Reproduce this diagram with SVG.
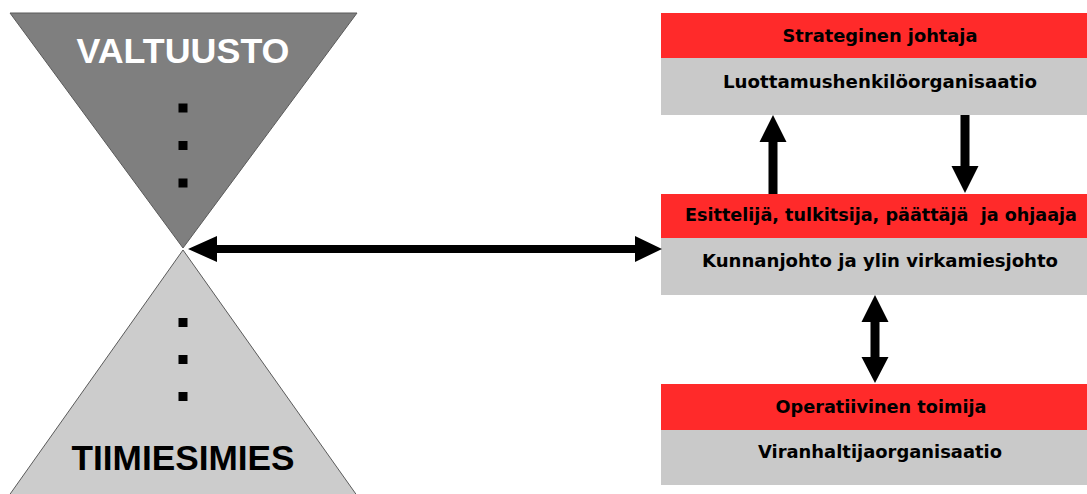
<svg xmlns="http://www.w3.org/2000/svg" width="1087" height="494" viewBox="0 0 1087 494">
<style>
.lbl{font-family:"DejaVu Sans","Verdana",sans-serif;font-weight:bold;font-size:18px;fill:#000;text-anchor:middle}
.big{font-family:"Liberation Sans",Arial,sans-serif;font-weight:bold;font-size:35px;text-anchor:middle}
.red{fill:#ff2a2a}
.gray{fill:#c9c9c9}
.arrow{fill:#000}
.dot{fill:#000}
</style>
<rect width="1087" height="494" fill="#fff"/>
<g id="valtuusto">
<polygon points="10,13 357,13 183,248" fill="#7f7f7f" stroke="#5a5a5a" stroke-width="1"/>
<text class="big" x="183" y="63" fill="#fff" textLength="213" lengthAdjust="spacingAndGlyphs">VALTUUSTO</text>
<rect class="dot" x="178.5" y="103.5" width="9" height="9"/>
<rect class="dot" x="178.5" y="141" width="9" height="9"/>
<rect class="dot" x="178.5" y="178.5" width="9" height="9"/>
</g>
<g id="tiimiesimies">
<polygon points="183,250 8,497 358,497" fill="#cccccc" stroke="#5a5a5a" stroke-width="1"/>
<rect class="dot" x="178.5" y="318" width="9" height="9"/>
<rect class="dot" x="178.5" y="355" width="9" height="9"/>
<rect class="dot" x="178.5" y="392" width="9" height="9"/>
<text class="big" x="183" y="470" fill="#000" textLength="223" lengthAdjust="spacingAndGlyphs">TIIMIESIMIES</text>
</g>
<g id="strateginen">
<rect class="red" x="661" y="13" width="440" height="45"/>
<rect class="gray" x="661" y="58" width="440" height="57"/>
<text class="lbl" x="880" y="42" textLength="195" lengthAdjust="spacingAndGlyphs">Strateginen johtaja</text>
<text class="lbl" x="880" y="88" textLength="314" lengthAdjust="spacingAndGlyphs">Luottamushenkilöorganisaatio</text>
</g>
<g id="esittelija">
<rect class="red" x="661" y="194" width="440" height="44"/>
<rect class="gray" x="661" y="238" width="440" height="57"/>
<text class="lbl" x="881" y="221" textLength="392" lengthAdjust="spacingAndGlyphs" xml:space="preserve">Esittelijä, tulkitsija, päättäjä  ja ohjaaja</text>
<text class="lbl" x="880" y="267" textLength="356" lengthAdjust="spacingAndGlyphs">Kunnanjohto ja ylin virkamiesjohto</text>
</g>
<g id="operatiivinen">
<rect class="red" x="661" y="384" width="440" height="46"/>
<rect class="gray" x="661" y="430" width="440" height="55"/>
<text class="lbl" x="881" y="413" textLength="211" lengthAdjust="spacingAndGlyphs">Operatiivinen toimija</text>
<text class="lbl" x="880" y="458" textLength="244" lengthAdjust="spacingAndGlyphs">Viranhaltijaorganisaatio</text>
</g>
<g id="connectors">
<polygon class="arrow" points="188,249 217,236 217,245 635,245 635,236 662,249 635,262 635,253 217,253 217,262"/>
<polygon class="arrow" points="773,115 786.5,142 777.5,142 777.5,194 768.5,194 768.5,142 759.5,142"/>
<polygon class="arrow" points="965,193 951.5,166 960.5,166 960.5,115 969.5,115 969.5,166 978.5,166"/>
<polygon class="arrow" points="875,295 888.5,322 879.5,322 879.5,357 888.5,357 875,383 861.5,357 870.5,357 870.5,322 861.5,322"/>
</g>
</svg>
